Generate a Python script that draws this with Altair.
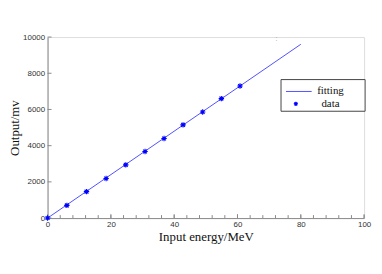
import altair as alt
import pandas as pd

# data
energy = [0, 6.1, 12.3, 18.5, 24.7, 30.8, 36.8, 42.8, 49.0, 54.9, 60.8]
output = [0, 700, 1460, 2190, 2940, 3680, 4400, 5150, 5860, 6600, 7300]
fit_x = [0, 80]
fit_y = [0, 9600]
x_ticks = list(range(0, 101, 4))
x_major = [0, 20, 40, 60, 80, 100]
y_ticks = [0, 2000, 4000, 6000, 8000, 10000]

W, H = 320, 183
BLUE = "#0000ff"
LINE_BLUE = "#5050ff"
AXIS = "#8a8a8a"
STAR = "M-1,0L1,0M0,-1L0,1M-0.7,-0.7L0.7,0.7M-0.7,0.7L0.7,-0.7"

df = pd.DataFrame({"x": energy, "y": output})
fit = pd.DataFrame({"x": fit_x, "y": fit_y})
xt = pd.DataFrame({"x": x_ticks})
xm = pd.DataFrame({"x": x_major})
yt = pd.DataFrame({"y": y_ticks})

xs = alt.Scale(domain=[0, 100], nice=False, zero=False)
ys = alt.Scale(domain=[0, 10000], nice=False, zero=False)

xaxis = alt.Axis(values=x_major, format="d", title="Input energy/MeV", grid=False,
                 tickSize=0, labelPadding=3, labelFont="Liberation Sans", labelFontSize=8,
                 labelColor="#333333", domainColor=AXIS, titleFont="Liberation Serif",
                 titleFontSize=13, titleFontWeight="normal", titleColor="#111111",
                 titlePadding=2, labelOverlap=False, labelFlush=False)
yaxis = alt.Axis(values=y_ticks, format="d", title="Output/mv", grid=False,
                 tickSize=0, labelPadding=3, labelFont="Liberation Sans", labelFontSize=8,
                 labelColor="#333333", domainColor=AXIS, titleFont="Liberation Serif",
                 titleFontSize=13, titleFontWeight="normal", titleColor="#111111",
                 titlePadding=1, labelOverlap=False, labelFlush=False)

X = alt.X("x:Q", scale=xs, axis=xaxis)
Y = alt.Y("y:Q", scale=ys, axis=yaxis)

line = alt.Chart(fit).mark_line(color=LINE_BLUE, strokeWidth=1).encode(x=X, y=Y)
pts = alt.Chart(df).mark_point(shape=STAR, filled=False, color=BLUE, size=30,
                               strokeWidth=1.1, opacity=1).encode(x=X, y=Y)

xtick = alt.Chart(xt).mark_rule(color=AXIS, strokeWidth=1).encode(
    x=X, y=alt.value(H), y2=alt.value(H - 3))
xmaj = alt.Chart(xm).mark_rule(color=AXIS, strokeWidth=1).encode(
    x=X, y=alt.value(H), y2=alt.value(H - 4))
ytick = alt.Chart(yt).mark_rule(color=AXIS, strokeWidth=1).encode(
    y=Y, x=alt.value(0), x2=alt.value(4))

# legend box
lg_box = alt.Chart(pd.DataFrame({"a": [0]})).mark_rect(
    fill="white", stroke="#444444", strokeWidth=1).encode(
    x=alt.value(236), x2=alt.value(321), y=alt.value(43), y2=alt.value(75))
lg_line = alt.Chart(pd.DataFrame({"a": [0]})).mark_rule(
    color=LINE_BLUE, strokeWidth=1).encode(
    x=alt.value(241), x2=alt.value(267), y=alt.value(55))
lg_pt = alt.Chart(pd.DataFrame({"a": [0]})).mark_point(
    shape=STAR, filled=False, color=BLUE, size=18, strokeWidth=1.1, opacity=1).encode(
    x=alt.value(251), y=alt.value(67.5))
lg_t1 = alt.Chart(pd.DataFrame({"lab": ["fitting"]})).mark_text(
    font="Liberation Serif", fontSize=11, color="#111111", align="center",
    baseline="middle").encode(text="lab:N", x=alt.value(286), y=alt.value(54.5))
lg_t2 = alt.Chart(pd.DataFrame({"lab": ["data"]})).mark_text(
    font="Liberation Serif", fontSize=11, color="#111111", align="center",
    baseline="middle").encode(text="lab:N", x=alt.value(286), y=alt.value(67.5))
stray = alt.Chart(pd.DataFrame({"s": [":"]})).mark_text(
    fontSize=7, color="#999999", align="center", baseline="middle").encode(
    text="s:N", x=alt.value(231.5), y=alt.value(1.5))

chart = alt.layer(line, xtick, xmaj, ytick, pts, lg_box, lg_line, lg_pt, lg_t1, lg_t2, stray).properties(
    width=W, height=H, autosize=alt.AutoSizeParams(type="none"),
    padding={"left": 40, "top": 28, "right": 10, "bottom": 40},
).configure_view(stroke=None).configure(background="white")

chart.save("out.html", embed_options={"renderer": "svg", "actions": False})
